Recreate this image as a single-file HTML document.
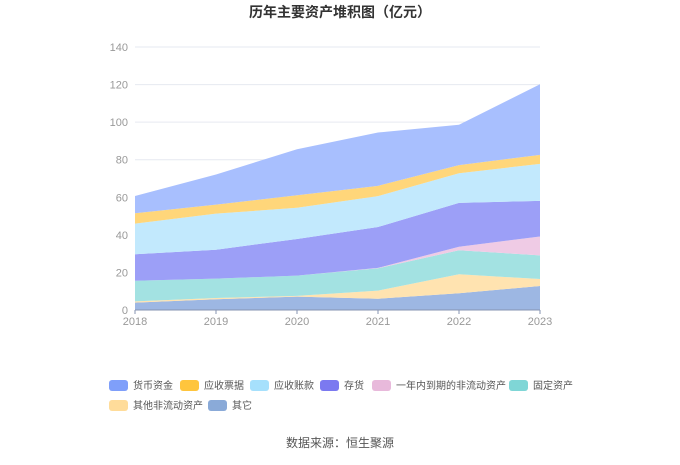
<!DOCTYPE html>
<html><head><meta charset="utf-8">
<style>
body{margin:0;background:#fff;}
svg text{font-family:"Liberation Sans","Noto Sans CJK SC",sans-serif;}
</style></head>
<body>
<svg id="chart" width="680" height="460" xmlns="http://www.w3.org/2000/svg">
<text x="340" y="17" text-anchor="middle" font-size="14" font-weight="bold" fill="#333">历年主要资产堆积图（亿元）</text>
<g id="grid"></g>
<g id="areas"></g>
<g id="axes"></g>
<g id="legend"></g>
<text x="340" y="447" text-anchor="middle" font-size="12" fill="#555">数据来源：恒生聚源</text>
</svg>
<script>
const years = ['2018','2019','2020','2021','2022','2023'];
const yTicks = [0,20,40,60,80,100,120,140];
const otherVals = [3.9,5.7,7.1,6.0,8.9,12.8];
const otherNonCurrent = [0.7,0.7,0.4,4.3,10.1,3.7];
const fixedAssets = [11.0,10.3,10.8,11.9,12.8,12.6];
const nonCurrentDue = [0,0,0,0.2,1.9,10.0];
const inventory = [14.1,15.4,19.5,21.8,23.3,19.0];
const receivables = [16.3,19.2,16.6,16.4,15.8,19.7];
const notesReceivable = [5.5,4.8,6.7,5.5,4.3,4.8];
const cash = [9.2,16.0,24.5,28.4,21.5,37.6];

const NS='http://www.w3.org/2000/svg';
const x0=135,x1=540,y0=310,y1=47,yMax=140;
const xs=i=>x0+(x1-x0)*i/(years.length-1);
const ys=v=>y0-(y0-y1)*v/yMax;
function mk(tag,attrs,parent){const e=document.createElementNS(NS,tag);for(const k in attrs)e.setAttribute(k,attrs[k]);parent.appendChild(e);return e;}

const grid=document.getElementById('grid'),axes=document.getElementById('axes'),areas=document.getElementById('areas'),legend=document.getElementById('legend');
yTicks.forEach(t=>{
  if(t>0){const l=mk('line',{x1:x0,x2:x1,y1:ys(t),y2:ys(t),stroke:'#e6e9f0','stroke-width':1},grid);
  
  }
  const tx=mk('text',{x:x0-7,y:ys(t)+4,'text-anchor':'end','font-size':11,fill:'#999'},axes);
  tx.textContent=t;
  
  
});
const ax=mk('line',{x1:x0,x2:x1,y1:y0,y2:y0,stroke:'#8593b0','stroke-width':1},axes);


years.forEach((y,i)=>{
  const tk=mk('line',{x1:xs(i),x2:xs(i),y1:y0,y2:y0+4,stroke:'#8593b0'},axes);
  
  
  const tx=mk('text',{x:xs(i),y:y0+15,'text-anchor':'middle','font-size':11,fill:'#999'},axes);
  tx.textContent=y;
  
  
});

const series=[
 {name:'其它',vals:otherVals,fill:'#9db7e3',leg:'#8aaad8',id:'other'},
 {name:'其他非流动资产',vals:otherNonCurrent,fill:'#ffe3b0',leg:'#ffdc9a',id:'other-non-current'},
 {name:'固定资产',vals:fixedAssets,fill:'#a3e2e2',leg:'#7fd6d6',id:'fixed-assets'},
 {name:'一年内到期的非流动资产',vals:nonCurrentDue,fill:'#efcbe5',leg:'#e8b9db',id:'non-current-due'},
 {name:'存货',vals:inventory,fill:'#9c9ff7',leg:'#7b79f0',id:'inventory'},
 {name:'应收账款',vals:receivables,fill:'#c2e9fd',leg:'#a6e0fc',id:'receivables'},
 {name:'应收票据',vals:notesReceivable,fill:'#ffd67a',leg:'#ffc53d',id:'notes-receivable'},
 {name:'货币资金',vals:cash,fill:'#a8bffe',leg:'#7f9ffa',id:'cash'}
];
let base=years.map(()=>0);
series.forEach(s=>{
  const top=base.map((b,i)=>b+s.vals[i]);
  let d='';
  top.forEach((v,i)=>{d+=(i?'L':'M')+xs(i)+','+ys(v);});
  for(let i=years.length-1;i>=0;i--)d+='L'+xs(i)+','+ys(base[i]);
  const p=mk('path',{d:d+'Z',fill:s.fill,stroke:'none'},areas);
  
  
  base=top;
});

const legendOrder=[
 [7,109,385],[6,180,385],[5,250,385],[4,320,385],[3,372,385],[2,509,385],
 [1,109,405],[0,208,405]];
legendOrder.forEach(([idx,lx,ly])=>{
  const s=series[idx];
  const g=mk('g',{},legend);
  
  
  mk('rect',{x:lx,y:ly-5,width:19,height:11,rx:3,fill:s.leg},g);
  const t=mk('text',{x:lx+24,y:ly+4,'font-size':10,fill:'#555'},g);
  t.textContent=s.name;
});
</script>
</body></html>
